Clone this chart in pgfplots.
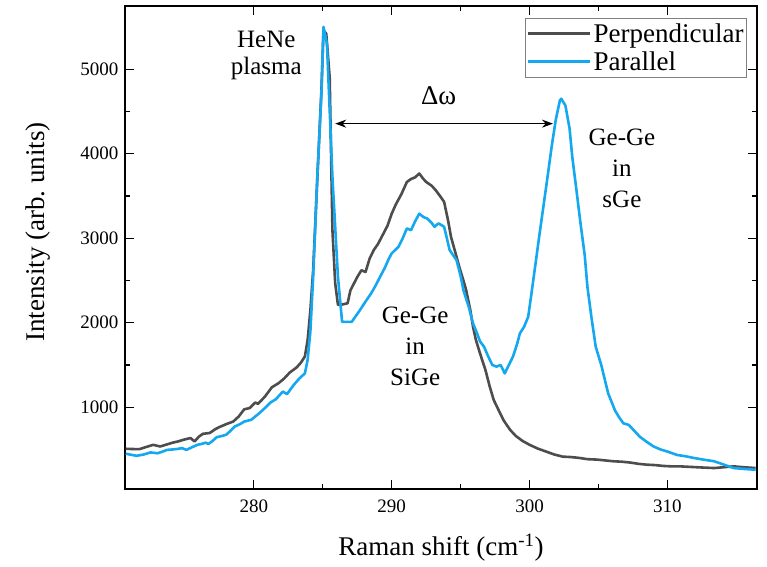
\documentclass[border=0pt]{standalone}
\usepackage{pgfplots}
\pgfplotsset{compat=1.18}
\usepackage{pgfplotstable}
\usepackage{fontspec}
\setmainfont{Liberation Serif}
\usetikzlibrary{arrows.meta}

\definecolor{perpgrey}{RGB}{77,77,77}
\definecolor{parblue}{RGB}{20,168,240}

% Perpendicular polarisation spectrum
\pgfplotstableread{
x y
270.7 508
271.2 505
271.7 504
272.2 530
272.7 555
273.2 535
273.7 560
274.1 580
274.5 595
274.9 615
275.4 635
275.7 595
276.0 650
276.3 685
276.8 695
277.2 740
277.5 765
278.0 800
278.5 830
278.9 890
279.3 975
279.7 990
280.1 1055
280.3 1040
280.8 1125
281.3 1235
281.8 1285
282.2 1340
282.6 1410
283.1 1470
283.4 1525
283.7 1600
283.9 1795
284.1 2150
284.3 2620
284.6 3700
284.9 4750
285.05 5460
285.25 5420
285.5 4900
285.7 3090
285.9 2465
286.1 2210
286.4 2215
286.8 2230
287.0 2380
287.2 2445
287.5 2540
287.8 2620
288.1 2600
288.4 2760
288.7 2860
289.0 2930
289.4 3055
289.7 3150
290.0 3290
290.3 3400
290.7 3520
291.1 3665
291.4 3700
291.7 3720
292.0 3765
292.3 3700
292.5 3665
292.9 3620
293.2 3565
293.5 3500
293.8 3430
294.1 3200
294.3 3015
294.6 2840
294.9 2660
295.2 2500
295.4 2385
295.7 2150
295.9 1950
296.1 1800
296.4 1640
296.8 1440
297.1 1250
297.4 1085
297.8 950
298.1 850
298.3 800
298.6 730
299.0 660
299.5 600
300.0 555
300.6 510
301.2 475
301.8 440
302.4 415
303.0 410
303.6 400
304.2 385
304.9 380
305.5 370
306.1 360
306.7 355
307.3 345
307.9 330
308.5 320
309.1 315
309.7 305
310.3 300
310.9 300
311.5 295
312.1 290
312.7 285
313.4 280
314.1 290
314.8 300
315.5 290
316.4 280
}\perpdata

% Parallel polarisation spectrum
\pgfplotstableread{
x y
270.7 450
271.0 440
271.5 425
272.0 440
272.5 465
273.0 455
273.3 470
273.7 495
274.1 500
274.4 505
274.8 515
275.1 495
275.5 525
275.9 555
276.2 565
276.5 580
276.7 565
277.0 600
277.3 645
277.7 660
278.0 675
278.3 720
278.6 770
279.0 800
279.3 830
279.8 850
280.1 890
280.4 930
280.8 990
281.2 1055
281.6 1095
282.1 1185
282.4 1155
282.9 1265
283.3 1340
283.7 1400
283.9 1560
284.1 1900
284.3 2540
284.6 3720
284.9 4710
285.05 5500
285.3 5300
285.5 4510
285.7 3720
285.9 3130
286.1 2540
286.4 2010
286.8 2010
287.1 2010
287.4 2080
287.7 2150
288.1 2250
288.5 2345
288.8 2430
289.1 2525
289.5 2650
289.8 2760
290.0 2820
290.5 2900
290.8 3000
291.1 3115
291.4 3095
291.7 3200
292.0 3290
292.3 3250
292.6 3230
292.9 3180
293.1 3135
293.4 3175
293.8 3135
294.0 3000
294.2 2860
294.7 2740
295.0 2550
295.2 2385
295.6 2180
295.9 1990
296.2 1870
296.4 1780
296.7 1715
297.0 1600
297.3 1500
297.6 1480
297.9 1500
298.2 1400
298.5 1500
298.8 1600
299.1 1750
299.3 1875
299.6 1950
299.9 2070
300.1 2300
300.4 2660
300.7 3020
301.0 3370
301.3 3720
301.6 4080
301.9 4400
302.2 4630
302.3 4650
302.6 4570
302.9 4300
303.1 3960
303.4 3570
303.7 3170
304.0 2800
304.2 2420
304.5 2050
304.8 1715
305.2 1500
305.7 1165
306.2 960
306.5 880
306.8 810
307.2 790
307.6 720
308.0 650
308.5 590
309.0 535
309.5 500
310.0 475
310.7 435
311.3 420
311.9 400
312.6 380
313.4 360
314.1 320
314.8 280
315.5 270
316.4 260
}\pardata

\begin{document}
\begin{tikzpicture}
\useasboundingbox (-125pt,-77pt) rectangle (642pt,489pt);
\begin{axis}[
  at={(0pt,0pt)}, anchor=south west,
  scale only axis,
  width=632pt, height=483pt,
  xmin=270.65, xmax=316.5,
  ymin=32, ymax=5747,
  xtick={280,290,300,310},
  ytick={1000,2000,3000,4000,5000},
  minor x tick num=1,
  minor y tick num=1,
  tick align=inside,
  xtick pos=both, ytick pos=both,
  xticklabel pos=lower, yticklabel pos=left,
  major tick length=9pt,
  minor tick length=5pt,
  every tick/.style={black, line width=1.2pt},
  axis line style={line width=1.3pt},
  /pgf/number format/assume math mode=true,
  /pgf/number format/1000 sep={},
  tick label style={font=\fontsize{19}{22}\selectfont},
  xticklabel style={yshift=-7pt},
  yticklabel style={xshift=-3pt},
  xlabel={Raman shift (cm\textsuperscript{-1})},
  ylabel={Intensity (arb.\ units)},
  label style={font=\fontsize{27}{30}\selectfont},
  xlabel style={at={(axis description cs:0.5,-0.122)}, anchor=center},
  ylabel style={at={(axis description cs:-0.138,0.532)}, anchor=center},
  legend style={
    at={(axis description cs:0.984,0.975)}, anchor=north east,
    draw=gray, line width=0.8pt,
    font=\fontsize{27}{30}\selectfont,
    inner xsep=1pt, inner ysep=3pt,
    row sep=4pt,
    cells={anchor=west},
  },
  legend image code/.code={\draw[#1, line width=3pt] (0pt,0pt) -- (62pt,0pt);},
]
\addplot[perpgrey, line width=2.6pt, line join=round] table {\perpdata};
\addlegendentry{Perpendicular}
\addplot[parblue, line width=2.6pt, line join=round] table {\pardata};
\addlegendentry{Parallel}

\draw[{Stealth[length=11pt,width=8pt]}-{Stealth[length=11pt,width=8pt]}, line width=1.4pt]
  (axis cs:285.9,4355) -- (axis cs:301.7,4355);
\node[font=\fontsize{27}{30}\selectfont] at (axis cs:293.4,4680) {Δω};
\node[font=\fontsize{25}{27}\selectfont, align=center] at (axis cs:280.9,5160) {HeNe\\plasma};
\node[font=\fontsize{25}{31}\selectfont, align=center] at (axis cs:291.7,1724) {Ge-Ge\\in\\SiGe};
\node[font=\fontsize{25}{31}\selectfont, align=center] at (axis cs:306.7,3826) {Ge-Ge\\in\\sGe};
\end{axis}
\end{tikzpicture}
\end{document}
